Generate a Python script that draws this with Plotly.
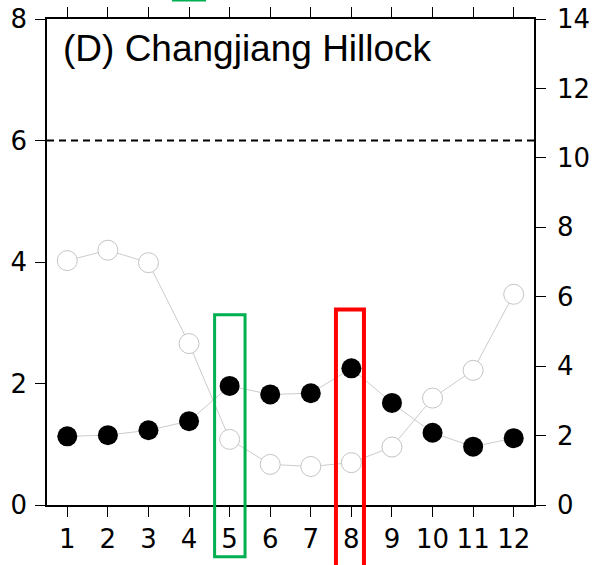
import plotly.graph_objects as go

months = [1, 2, 3, 4, 5, 6, 7, 8, 9, 10, 11, 12]
month_labels = ["1", "2", "3", "4", "5", "6", "7", "8", "9", "10", "11", "12"]
# filled black series (left axis, 0-8)
black_vals = [1.13, 1.15, 1.23, 1.38, 1.96, 1.82, 1.84, 2.25, 1.68, 1.19, 0.96, 1.10]
# open grey series (right axis, 0-14)
open_vals = [7.04, 7.34, 6.98, 4.65, 1.89, 1.17, 1.11, 1.22, 1.67, 3.08, 3.88, 6.07]
threshold = 6
title_text = "(D) Changjiang Hillock"

XMIN, XMAX = 0.5, 12.5
YMAX_L, YMAX_R = 8, 14

W, H = 592, 565
ML, MR, MT, MB = 47, 58, 19, 60

TICK_FONT = dict(family="DejaVu Sans", size=26, color="black")

fig = go.Figure()

fig.add_trace(go.Scatter(
    x=months, y=open_vals, yaxis="y2", mode="lines+markers",
    line=dict(color="#cccccc", width=1),
    marker=dict(size=20, color="white", line=dict(color="#c4c4c4", width=1)),
    hoverinfo="skip", showlegend=False))

fig.add_trace(go.Scatter(
    x=months, y=black_vals, mode="lines+markers",
    line=dict(color="#cccccc", width=1),
    marker=dict(size=20, color="black", line=dict(width=0)),
    hoverinfo="skip", showlegend=False))

# dashed threshold line
fig.add_shape(type="line", xref="paper", yref="y", x0=0, x1=1, y0=threshold, y1=threshold,
              line=dict(color="black", width=2, dash="7px,5px"))

def yp(v):
    return v / YMAX_L

# highlight rectangles (month 5 green, month 8 red)
fig.add_shape(type="rect", xref="x", yref="paper", x0=4.63, x1=5.38, y0=yp(-0.85), y1=yp(3.13),
              line=dict(color="#00b050", width=3), fillcolor="rgba(0,0,0,0)")
fig.add_shape(type="rect", xref="x", yref="paper", x0=7.62, x1=8.31, y0=yp(-1.4), y1=yp(3.22),
              line=dict(color="#ff0000", width=4), fillcolor="rgba(0,0,0,0)")
# fragment of a highlight from the panel above
ph = H - MT - MB
fig.add_shape(type="line", xref="x", yref="paper", x0=3.58, x1=4.42,
              y0=(ph + MT - 0.5) / ph, y1=(ph + MT - 0.5) / ph,
              line=dict(color="#00b050", width=2))

fig.add_annotation(text=title_text, xref="paper", yref="paper", x=(61 - ML) / (W - ML - MR),
                   y=(H - MB - 48) / ph, xanchor="left", yanchor="middle", showarrow=False,
                   font=dict(family="Liberation Sans", size=37, color="black"))

fig.update_layout(
    width=W, height=H, margin=dict(l=ML, r=MR, t=MT, b=MB, pad=0, autoexpand=False),
    paper_bgcolor="white", plot_bgcolor="white", showlegend=False,
    xaxis=dict(range=[XMIN, XMAX], tickmode="array", tickvals=months, ticktext=month_labels,
               showline=True, linecolor="black", linewidth=1.5, mirror="ticks",
               ticks="outside", ticklen=10, tickwidth=1, tickcolor="black", automargin=False,
               showgrid=False, zeroline=False, tickfont=TICK_FONT),
    yaxis=dict(range=[0, YMAX_L], dtick=2, showline=True, linecolor="black", linewidth=1.5,
               ticks="outside", ticklen=10, tickwidth=1, tickcolor="black", automargin=False,
               ticklabelstandoff=3,
               showgrid=False, zeroline=False, tickfont=TICK_FONT),
    yaxis2=dict(range=[0, YMAX_R], dtick=2, overlaying="y", side="right", showline=True,
                linecolor="black", linewidth=1.5, ticks="outside", ticklen=10, tickwidth=1,
                automargin=False, ticklabelstandoff=6,
                tickcolor="black", showgrid=False, zeroline=False, tickfont=TICK_FONT),
)

fig.write_html("out.html")
